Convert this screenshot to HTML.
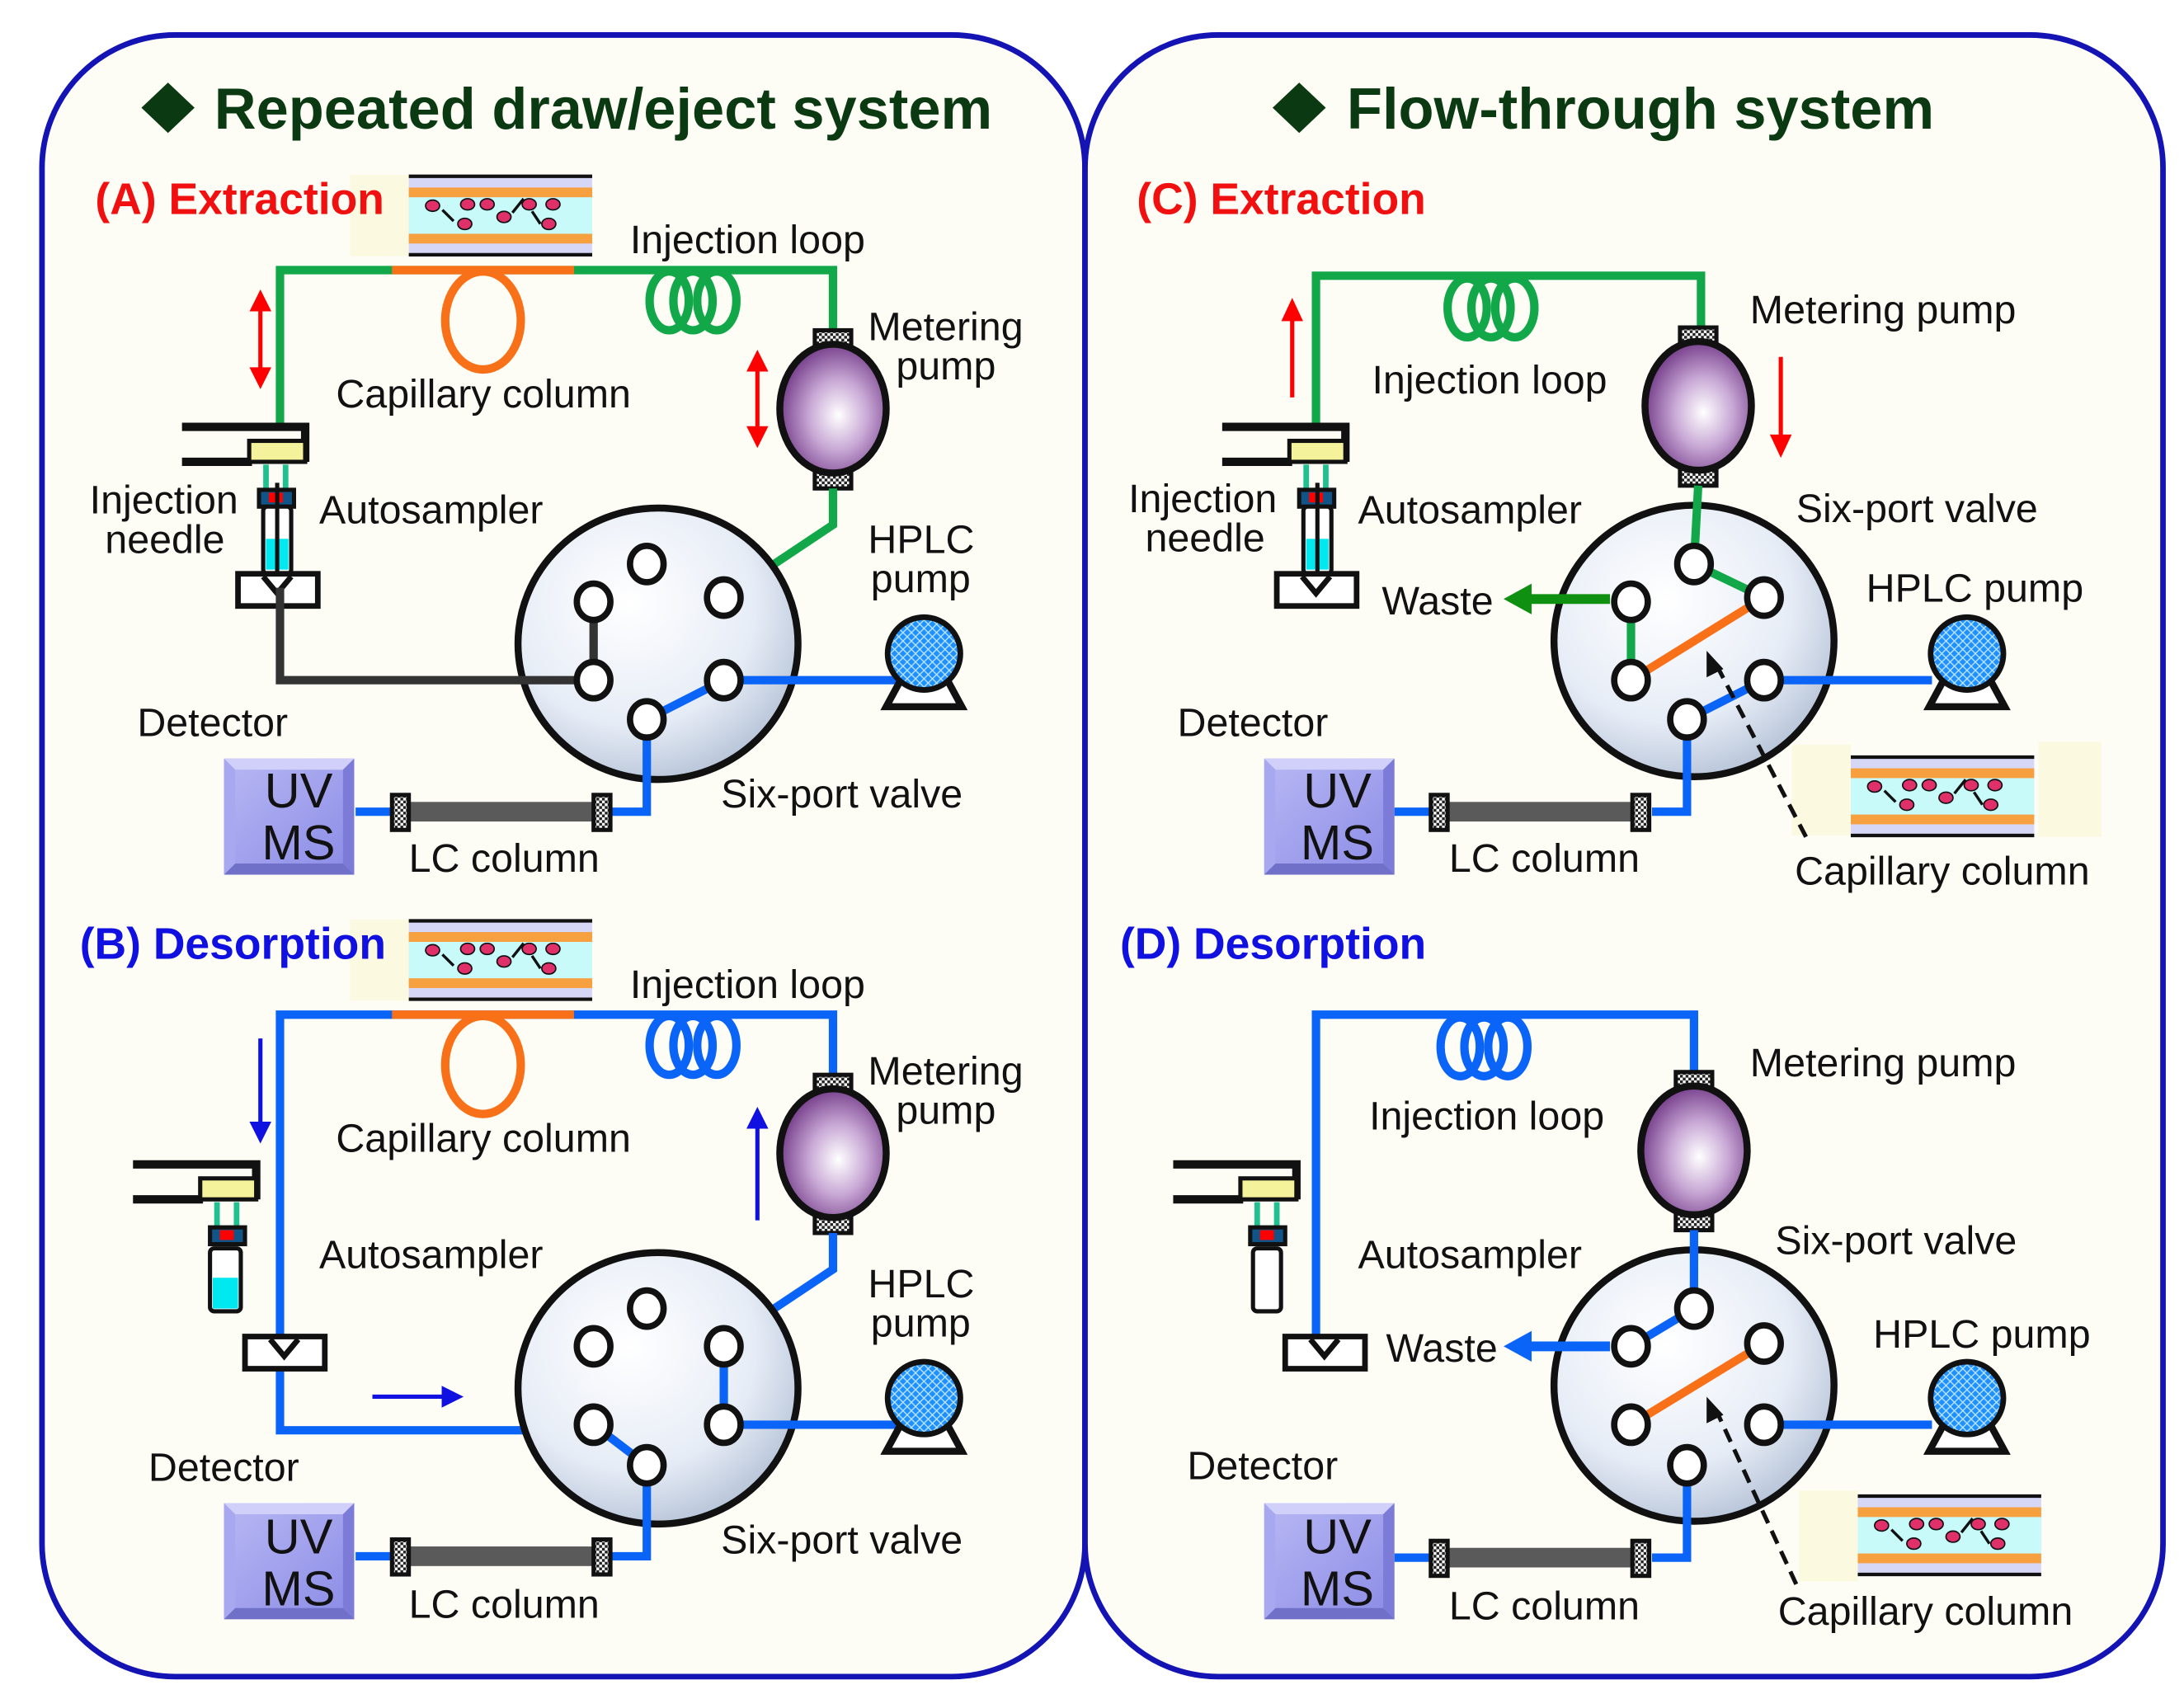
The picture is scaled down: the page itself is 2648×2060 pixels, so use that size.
<!DOCTYPE html>
<html><head><meta charset="utf-8"><style>
html,body{margin:0;padding:0;background:#fff;}
svg{display:block;}
text{font-family:"Liberation Sans",Arial,sans-serif;fill:#111;}
.l{font-size:28.5px;}
.t{font-size:41.5px;font-weight:bold;fill:#0b3a12;}
.h{font-size:31.5px;font-weight:bold;}
.uv{font-size:35px;fill:#111;}
</style></head><body>
<svg width="2648" height="2060" viewBox="0 0 1560 1214" preserveAspectRatio="none" xmlns="http://www.w3.org/2000/svg">
<defs>
<pattern id="chk" width="4" height="4" patternUnits="userSpaceOnUse"><rect width="4" height="4" fill="#fff"/><rect width="2" height="2" fill="#222"/><rect x="2" y="2" width="2" height="2" fill="#222"/></pattern>
<pattern id="net" width="6" height="6" patternUnits="userSpaceOnUse"><rect width="6" height="6" fill="#1e90ff"/><path d="M0 0L6 6M6 0L0 6" stroke="#bfe6ff" stroke-width="0.8"/></pattern>
<radialGradient id="pg" cx="0.55" cy="0.55" r="0.6"><stop offset="0" stop-color="#fff"/><stop offset="0.45" stop-color="#c9a9d6"/><stop offset="1" stop-color="#6a2f80"/></radialGradient>
<radialGradient id="vg" cx="0.4" cy="0.35" r="0.75"><stop offset="0" stop-color="#ffffff"/><stop offset="0.6" stop-color="#e6ecf6"/><stop offset="1" stop-color="#a9b8cf"/></radialGradient>
<linearGradient id="bx" x1="0" y1="0" x2="1" y2="1"><stop offset="0" stop-color="#b8b8f4"/><stop offset="1" stop-color="#8a8ae6"/></linearGradient>
<g id="mpump">
<rect x="-13" y="-56" width="26" height="13" fill="url(#chk)" stroke="#111" stroke-width="3"/>
<rect x="-13" y="44" width="26" height="13" fill="url(#chk)" stroke="#111" stroke-width="3"/>
<ellipse cx="0" cy="0" rx="38" ry="46" fill="url(#pg)" stroke="#111" stroke-width="5"/>
</g>
<g id="hpump">
<path d="M-14 14 L-27 38 L27 38 L14 14" fill="#fff" stroke="#111" stroke-width="5"/>
<circle cx="0" cy="0" r="26" fill="url(#net)" stroke="#111" stroke-width="4"/>
</g>
<g id="disk"><ellipse cx="0" cy="0" rx="100" ry="97" fill="url(#vg)" stroke="#111" stroke-width="5"/></g>
<g id="port"><ellipse cx="0" cy="0" rx="12" ry="13" fill="#fff" stroke="#111" stroke-width="4.5"/></g>
<g id="tube">
<rect x="0" y="0" width="131" height="58" fill="#d6d6f7"/>
<rect x="0" y="9" width="131" height="7" fill="#f6a040"/>
<rect x="0" y="42" width="131" height="7" fill="#f6a040"/>
<rect x="0" y="16" width="131" height="26" fill="#c8fafa"/>
<line x1="0" y1="1" x2="131" y2="1" stroke="#111" stroke-width="2.5"/>
<line x1="0" y1="57" x2="131" y2="57" stroke="#111" stroke-width="2.5"/>
<g fill="#e0306a" stroke="#111" stroke-width="1"><ellipse cx="17" cy="22" rx="5" ry="4"/><ellipse cx="42" cy="21" rx="5" ry="4"/><ellipse cx="56" cy="21" rx="5" ry="4"/><ellipse cx="86" cy="21" rx="5" ry="4"/><ellipse cx="103" cy="21" rx="5" ry="4"/><ellipse cx="40" cy="35" rx="5" ry="4"/><ellipse cx="68" cy="30" rx="5" ry="4"/><ellipse cx="100" cy="35" rx="5" ry="4"/></g>
<g stroke="#111" stroke-width="2"><line x1="24" y1="25" x2="32" y2="33"/><line x1="74" y1="27" x2="82" y2="17"/><line x1="88" y1="26" x2="94" y2="35"/></g>
</g>
<g id="uv">
<rect x="0" y="0" width="93" height="83" fill="url(#bx)"/>
<path d="M0 0L8 8L85 8L93 0Z" fill="#d0d0fa"/><path d="M0 83L8 75L85 75L93 83Z" fill="#7070c8"/>
<path d="M0 0L8 8L8 75L0 83Z" fill="#a8a8f0"/><path d="M93 0L85 8L85 75L93 83Z" fill="#7c7cd8"/>
</g>
<g id="lc">
<rect x="10" y="-7" width="140" height="14" fill="#5a5a5a"/>
<rect x="0" y="-12" width="12" height="25" fill="url(#chk)" stroke="#111" stroke-width="3"/>
<rect x="144" y="-12" width="12" height="25" fill="url(#chk)" stroke="#111" stroke-width="3"/>
</g>
<g id="holder">
<path d="M0 0 L88 0 L88 25 M0 25 L50 25" fill="none" stroke="#111" stroke-width="6"/>
<rect x="48" y="10" width="40" height="15" fill="#f4f29a" stroke="#111" stroke-width="3"/>
<line x1="60" y1="27" x2="60" y2="45" stroke="#20c090" stroke-width="4"/><line x1="74" y1="27" x2="74" y2="45" stroke="#20c090" stroke-width="4"/>
<rect x="55" y="45" width="25" height="12" fill="#158" stroke="#111" stroke-width="3"/><rect x="62" y="47" width="10" height="7" fill="#f00"/>
</g>
<g id="drain"><rect x="0" y="0" width="57" height="23" fill="#fff" stroke="#111" stroke-width="4"/><path d="M18 2 L28 14 L38 2" fill="none" stroke="#111" stroke-width="4"/></g>
<g id="coil" fill="none" stroke-width="6"><ellipse cx="-17" cy="0" rx="14" ry="21"/><ellipse cx="0" cy="0" rx="14" ry="21"/><ellipse cx="17" cy="0" rx="14" ry="21"/></g>
</defs>
<rect width="1560" height="1214" fill="#fff"/>
<rect x="30" y="25" width="745" height="1173" rx="95" fill="#fdfdf6" stroke="#1414b4" stroke-width="4"/>
<rect x="775" y="25" width="770" height="1173" rx="95" fill="#fdfdf6" stroke="#1414b4" stroke-width="4"/>
<path d="M120 59 L139 77 L120 95 L101 77Z" fill="#0b3a12"/>
<text class="t" x="153" y="92">Repeated draw/eject system</text>
<path d="M928 59 L947 77 L928 95 L909 77Z" fill="#0b3a12"/>
<text class="t" x="962" y="92">Flow-through system</text>

<!-- ===== A ===== -->
<rect x="250" y="125" width="42" height="58" fill="#fbf9e0"/><use href="#tube" x="292" y="125"/>
<text class="h" x="68" y="153" style="fill:#f01010">(A) Extraction</text>
<path d="M200 305 L200 193 L595 193 L595 240" fill="none" stroke="#12a84a" stroke-width="6"/>
<line x1="280" y1="193" x2="410" y2="193" stroke="#f87018" stroke-width="6"/>
<ellipse cx="345" cy="229" rx="27" ry="35" fill="none" stroke="#f87018" stroke-width="6"/>
<use href="#coil" x="495" y="215" stroke="#12a84a"/>
<use href="#mpump" x="595" y="292"/>
<path d="M595 349 L595 375 L520 425" fill="none" stroke="#12a84a" stroke-width="6"/>
<use href="#holder" x="130" y="305"/>
<rect x="188" y="362" width="20" height="48" rx="3" fill="#fff" stroke="#111" stroke-width="3"/><rect x="190" y="385" width="16" height="22" fill="#00e8f0"/><line x1="198" y1="345" x2="198" y2="410" stroke="#111" stroke-width="3"/>
<use href="#drain" x="170" y="410"/>
<use href="#disk" x="470" y="460"/>
<path d="M200 420 L200 486 L424 486 L424 430" fill="none" stroke="#333" stroke-width="6"/>
<path d="M640 486 L517 486 L462 514 L462 580 L436 580" fill="none" stroke="#0a64f8" stroke-width="6"/>
<line x1="254" y1="580" x2="282" y2="580" stroke="#0a64f8" stroke-width="6"/>
<use href="#port" x="462" y="403"/><use href="#port" x="424" y="430"/><use href="#port" x="517" y="427"/><use href="#port" x="424" y="486"/><use href="#port" x="517" y="486"/><use href="#port" x="462" y="514"/>
<use href="#hpump" x="660" y="467"/>
<use href="#lc" x="280" y="580"/>
<use href="#uv" x="160" y="542"/><text class="uv" x="189" y="577">UV</text><text class="uv" x="187" y="614">MS</text>
<g fill="#f00" stroke="#f00"><path d="M186 215 L186 270" stroke-width="3"/><path d="M179 222 L186 208 L193 222Z"/><path d="M179 263 L186 277 L193 263Z"/>
<path d="M541 258 L541 312" stroke-width="3"/><path d="M534 265 L541 251 L548 265Z"/><path d="M534 305 L541 319 L548 305Z"/></g>
<text class="l" x="450" y="181">Injection loop</text>
<text class="l" x="620" y="243">Metering</text><text class="l" x="640" y="271">pump</text>
<text class="l" x="240" y="291">Capillary column</text>
<text class="l" x="64" y="367">Injection</text><text class="l" x="75" y="395">needle</text>
<text class="l" x="228" y="374">Autosampler</text>
<text class="l" x="620" y="395">HPLC</text><text class="l" x="622" y="423">pump</text>
<text class="l" x="98" y="526">Detector</text>
<text class="l" x="515" y="577">Six-port valve</text>
<text class="l" x="292" y="623">LC column</text>

<!-- ===== B ===== -->
<rect x="250" y="657" width="42" height="58" fill="#fbf9e0"/><use href="#tube" x="292" y="657"/>
<text class="h" x="57" y="685" style="fill:#1010e0">(B) Desorption</text>
<path d="M200 955 L200 725 L595 725 L595 772" fill="none" stroke="#0a64f8" stroke-width="6"/>
<path d="M200 978 L200 1022 L424 1022" fill="none" stroke="#0a64f8" stroke-width="6"/>
<line x1="280" y1="725" x2="410" y2="725" stroke="#f87018" stroke-width="6"/>
<ellipse cx="345" cy="761" rx="27" ry="35" fill="none" stroke="#f87018" stroke-width="6"/>
<use href="#coil" x="495" y="747" stroke="#0a64f8"/>
<use href="#mpump" x="595" y="824"/>
<path d="M595 881 L595 907 L520 957" fill="none" stroke="#0a64f8" stroke-width="6"/>
<use href="#holder" x="95" y="832"/>
<rect x="150" y="892" width="22" height="45" rx="3" fill="#fff" stroke="#111" stroke-width="3"/><rect x="152" y="913" width="18" height="22" fill="#00e8f0"/>
<use href="#drain" x="175" y="955"/>
<use href="#disk" x="470" y="992"/>
<path d="M517 962 L517 1018 M640 1018 L517 1018 M424 1018 L462 1047 L462 1112 L436 1112" fill="none" stroke="#0a64f8" stroke-width="6"/>
<line x1="254" y1="1112" x2="282" y2="1112" stroke="#0a64f8" stroke-width="6"/>
<use href="#port" x="462" y="935"/><use href="#port" x="424" y="962"/><use href="#port" x="517" y="962"/><use href="#port" x="424" y="1018"/><use href="#port" x="517" y="1018"/><use href="#port" x="462" y="1047"/>
<use href="#hpump" x="660" y="999"/>
<use href="#lc" x="280" y="1112"/>
<use href="#uv" x="160" y="1074"/><text class="uv" x="189" y="1110">UV</text><text class="uv" x="187" y="1147">MS</text>
<g fill="#1010e0" stroke="#1010e0"><path d="M186 742 L186 808" stroke-width="3"/><path d="M179 802 L186 816 L193 802Z"/>
<path d="M541 800 L541 872" stroke-width="3"/><path d="M534 806 L541 792 L548 806Z"/>
<path d="M266 998 L322 998" stroke-width="3"/><path d="M316 991 L330 998 L316 1005Z"/></g>
<text class="l" x="450" y="713">Injection loop</text>
<text class="l" x="620" y="775">Metering</text><text class="l" x="640" y="803">pump</text>
<text class="l" x="240" y="823">Capillary column</text>
<text class="l" x="228" y="906">Autosampler</text>
<text class="l" x="620" y="927">HPLC</text><text class="l" x="622" y="955">pump</text>
<text class="l" x="106" y="1058">Detector</text>
<text class="l" x="515" y="1110">Six-port valve</text>
<text class="l" x="292" y="1156">LC column</text>

<!-- ===== C ===== -->
<text class="h" x="812" y="153" style="fill:#f01010">(C) Extraction</text>
<path d="M940 305 L940 197 L1215 197 L1215 238" fill="none" stroke="#12a84a" stroke-width="6"/>
<use href="#coil" x="1065" y="220" stroke="#12a84a"/>
<use href="#mpump" x="1213" y="290"/>
<use href="#holder" x="873" y="305"/>
<rect x="931" y="362" width="20" height="48" rx="3" fill="#fff" stroke="#111" stroke-width="3"/><rect x="933" y="385" width="16" height="22" fill="#00e8f0"/><line x1="941" y1="345" x2="941" y2="410" stroke="#111" stroke-width="3"/>
<use href="#drain" x="912" y="410"/>
<use href="#disk" x="1210" y="458"/>
<path d="M1213 347 L1210 403 L1260 427" fill="none" stroke="#12a84a" stroke-width="6"/>
<line x1="1165" y1="430" x2="1165" y2="486" stroke="#12a84a" stroke-width="6"/>
<line x1="1165" y1="486" x2="1260" y2="427" stroke="#f87018" stroke-width="6"/>
<line x1="1150" y1="428" x2="1092" y2="428" stroke="#109010" stroke-width="7"/><path d="M1094 417 L1074 428 L1094 439Z" fill="#109010"/>
<path d="M1380 486 L1260 486 L1205 514 L1205 580 L1180 580" fill="none" stroke="#0a64f8" stroke-width="6"/>
<line x1="996" y1="580" x2="1024" y2="580" stroke="#0a64f8" stroke-width="6"/>
<use href="#port" x="1210" y="403"/><use href="#port" x="1165" y="430"/><use href="#port" x="1260" y="427"/><use href="#port" x="1165" y="486"/><use href="#port" x="1260" y="486"/><use href="#port" x="1205" y="514"/>
<use href="#hpump" x="1405" y="467"/>
<use href="#lc" x="1022" y="580"/>
<use href="#uv" x="903" y="542"/><text class="uv" x="931" y="577">UV</text><text class="uv" x="929" y="614">MS</text>
<rect x="1280" y="532" width="42" height="65" fill="#fbf9e0"/><rect x="1456" y="530" width="45" height="68" fill="#fbf9e0"/><use href="#tube" x="1322" y="540"/>
<line x1="1290" y1="598" x2="1226" y2="475" stroke="#111" stroke-width="3" stroke-dasharray="10,6"/><path d="M1219 465 L1219 484 L1231 478Z" fill="#111"/>
<g fill="#f00" stroke="#f00"><path d="M923 222 L923 284" stroke-width="3"/><path d="M916 229 L923 214 L930 229Z"/>
<path d="M1272 255 L1272 318" stroke-width="3"/><path d="M1265 311 L1272 326 L1279 311Z"/></g>
<text class="l" x="1250" y="231">Metering pump</text>
<text class="l" x="980" y="281">Injection loop</text>
<text class="l" x="806" y="366">Injection</text><text class="l" x="818" y="394">needle</text>
<text class="l" x="970" y="374">Autosampler</text>
<text class="l" x="1283" y="373">Six-port valve</text>
<text class="l" x="987" y="439">Waste</text>
<text class="l" x="1333" y="430">HPLC pump</text>
<text class="l" x="841" y="526">Detector</text>
<text class="l" x="1035" y="623">LC column</text>
<text class="l" x="1282" y="632">Capillary column</text>

<!-- ===== D ===== -->
<text class="h" x="800" y="685" style="fill:#1010e0">(D) Desorption</text>
<path d="M940 965 L940 725 L1210 725 L1210 770" fill="none" stroke="#0a64f8" stroke-width="6"/>
<use href="#coil" x="1060" y="748" stroke="#0a64f8"/>
<use href="#mpump" x="1210" y="822"/>
<use href="#holder" x="838" y="832"/>
<rect x="895" y="892" width="20" height="45" rx="3" fill="#fff" stroke="#111" stroke-width="3"/>
<use href="#drain" x="918" y="955"/>
<use href="#disk" x="1210" y="990"/>
<path d="M1210 879 L1210 935 L1165 962" fill="none" stroke="#0a64f8" stroke-width="6"/>
<line x1="1165" y1="1018" x2="1260" y2="960" stroke="#f87018" stroke-width="6"/>
<line x1="1150" y1="962" x2="1092" y2="962" stroke="#0a64f8" stroke-width="7"/><path d="M1094 951 L1074 962 L1094 973Z" fill="#0a64f8"/>
<path d="M1380 1018 L1260 1018 M1205 1047 L1205 1113 L1180 1113" fill="none" stroke="#0a64f8" stroke-width="6"/>
<line x1="996" y1="1113" x2="1024" y2="1113" stroke="#0a64f8" stroke-width="6"/>
<use href="#port" x="1210" y="935"/><use href="#port" x="1165" y="962"/><use href="#port" x="1260" y="960"/><use href="#port" x="1165" y="1018"/><use href="#port" x="1260" y="1018"/><use href="#port" x="1205" y="1047"/>
<use href="#hpump" x="1405" y="999"/>
<use href="#lc" x="1022" y="1113"/>
<use href="#uv" x="903" y="1074"/><text class="uv" x="931" y="1110">UV</text><text class="uv" x="929" y="1147">MS</text>
<rect x="1285" y="1065" width="42" height="65" fill="#fbf9e0"/><use href="#tube" x="1327" y="1068"/>
<line x1="1283" y1="1132" x2="1226" y2="1008" stroke="#111" stroke-width="3" stroke-dasharray="10,6"/><path d="M1219 998 L1219 1017 L1231 1011Z" fill="#111"/>
<text class="l" x="1250" y="769">Metering pump</text>
<text class="l" x="978" y="807">Injection loop</text>
<text class="l" x="970" y="906">Autosampler</text>
<text class="l" x="1268" y="896">Six-port valve</text>
<text class="l" x="990" y="973">Waste</text>
<text class="l" x="1338" y="963">HPLC  pump</text>
<text class="l" x="848" y="1057">Detector</text>
<text class="l" x="1035" y="1157">LC column</text>
<text class="l" x="1270" y="1161">Capillary column</text>
</svg>
</body></html>
